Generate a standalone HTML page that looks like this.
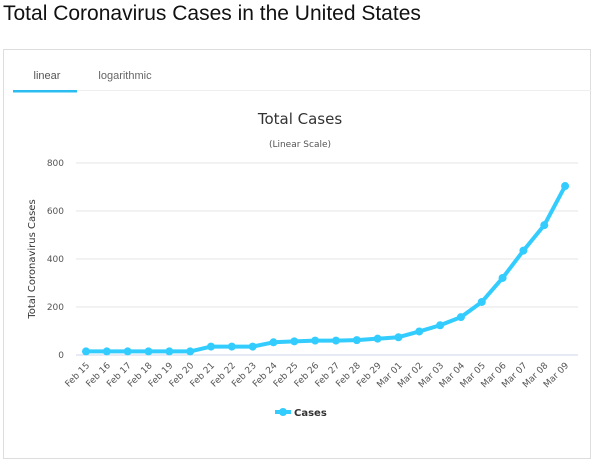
<!DOCTYPE html>
<html><head><style>
body{margin:0;width:600px;height:465px;background:#fff;font-family:"Liberation Sans",Arial,sans-serif;overflow:hidden;position:relative}
.h{position:absolute;left:3px;top:2px;font-size:21px;color:#111}
.card{position:absolute;left:3px;top:49px;width:588px;height:410px;border:1px solid #ddd;box-sizing:border-box}
</style></head><body>
<div class="h">Total Coronavirus Cases in the United States</div>
<div class="card"></div>
<svg width="600" height="465" style="position:absolute;left:0;top:0" font-family="DejaVu Sans,sans-serif">
<line x1="13" y1="90.5" x2="591" y2="90.5" stroke="#eee"/>
<rect x="13" y="90" width="64" height="2.5" fill="#2bbcf0"/>
<text x="47" y="79" font-size="11" fill="#555" text-anchor="middle" font-family="Liberation Sans,sans-serif">linear</text>
<text x="125" y="79" font-size="11" fill="#666" text-anchor="middle" font-family="Liberation Sans,sans-serif">logarithmic</text>
<text x="300" y="124" font-size="15" fill="#333" text-anchor="middle">Total Cases</text>
<text x="300" y="147" font-size="9" fill="#555" text-anchor="middle">(Linear Scale)</text>
<g stroke="#e6e6e6">
<line x1="76" y1="163" x2="578" y2="163"/><line x1="76" y1="211" x2="578" y2="211"/><line x1="76" y1="259" x2="578" y2="259"/><line x1="76" y1="307" x2="578" y2="307"/><line x1="76" y1="355" x2="578" y2="355" stroke="#ccd6eb"/>
</g>
<g font-size="9" fill="#555" text-anchor="end">
<text x="64" y="166">800</text><text x="64" y="214">600</text><text x="64" y="262">400</text><text x="64" y="310">200</text><text x="64" y="358">0</text>
</g>
<text transform="translate(35,259) rotate(-90)" font-size="10" fill="#333" text-anchor="middle">Total Coronavirus Cases</text>
<g id="lbl" font-size="9" fill="#555" text-anchor="end"></g>
<polyline id="ln" fill="none" stroke="#33ccff" stroke-width="4" stroke-linejoin="round"/>
<g id="dots" fill="#33ccff"></g>
<line x1="275" y1="412" x2="291" y2="412" stroke="#33ccff" stroke-width="4"/>
<circle cx="283" cy="412" r="4" fill="#33ccff"/>
<text x="294" y="416" font-size="10" font-weight="bold" fill="#333">Cases</text>
</svg>
<script>
var v=[15,15,15,15,15,15,35,35,35,53,57,60,60,62,68,74,98,124,158,221,321,435,541,704];
var d=["Feb 15","Feb 16","Feb 17","Feb 18","Feb 19","Feb 20","Feb 21","Feb 22","Feb 23","Feb 24","Feb 25","Feb 26","Feb 27","Feb 28","Feb 29","Mar 01","Mar 02","Mar 03","Mar 04","Mar 05","Mar 06","Mar 07","Mar 08","Mar 09"];
var p=[],dh="",lh="";
for(var i=0;i<24;i++){var x=86+i*20.83,y=355-v[i]*0.24;p.push(x+","+y);dh+='<circle cx="'+x+'" cy="'+y+'" r="4"/>';
lh+='<text transform="translate('+(x+4)+',366) rotate(-45)">'+d[i]+'</text>';}
document.getElementById("ln").setAttribute("points",p.join(" "));
document.getElementById("dots").innerHTML=dh;
document.getElementById("lbl").innerHTML=lh;
</script>
</body></html>
